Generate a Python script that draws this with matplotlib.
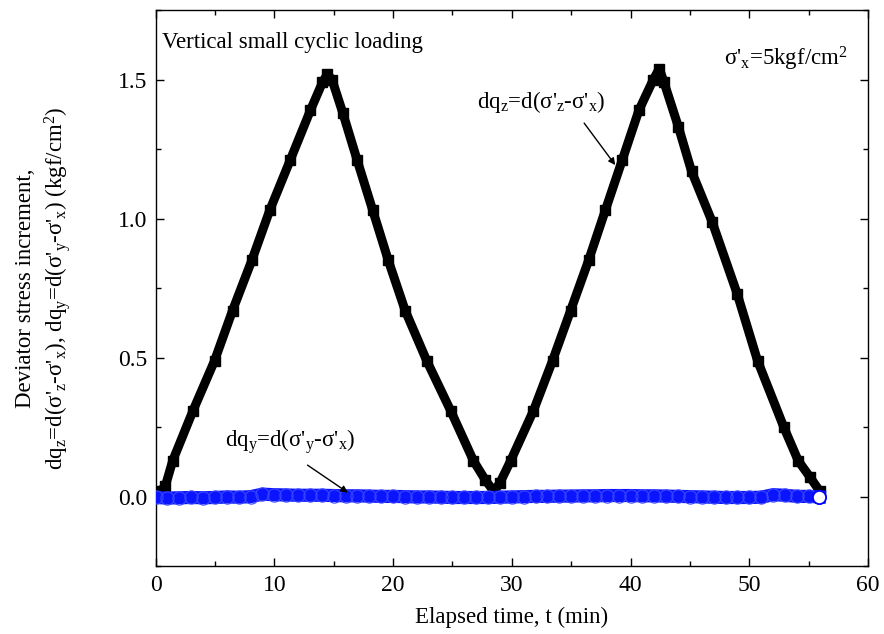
import matplotlib
matplotlib.use("Agg")
from matplotlib import pyplot as plt
from matplotlib.ticker import MultipleLocator

plt.rcParams['font.family'] = ['Liberation Serif', 'DejaVu Serif']
plt.rcParams['mathtext.fontset'] = 'custom'
plt.rcParams['mathtext.rm'] = 'Liberation Serif'
plt.rcParams['mathtext.it'] = 'Liberation Serif'

# dq_z = d(s'z - s'x)
t_z = [0.0, 0.38, 0.83, 1.44, 3.15, 4.97, 6.48, 8.10, 9.61, 11.33, 13.04, 14.05,
       14.46, 14.86, 15.77, 16.98, 18.29, 19.60, 21.02, 22.83, 24.85, 26.77, 27.78,
       28.49, 28.99, 29.90, 31.82, 33.43, 34.95, 36.46, 37.87, 39.29, 40.70, 41.91,
       42.42, 42.82, 44.03, 45.14, 46.86, 48.98, 50.69, 52.91, 54.12, 55.13, 55.94]
dq_z = [0.00, 0.02, 0.04, 0.13, 0.31, 0.49, 0.67, 0.85, 1.03, 1.21, 1.39, 1.49,
        1.52, 1.50, 1.38, 1.21, 1.03, 0.85, 0.67, 0.49, 0.31, 0.13, 0.06,
        0.02, 0.05, 0.13, 0.31, 0.49, 0.67, 0.85, 1.03, 1.21, 1.39, 1.50,
        1.54, 1.49, 1.33, 1.17, 0.99, 0.73, 0.49, 0.25, 0.13, 0.07, 0.02]

# dq_y = d(s'y - s'x)
t_y = [0, 1, 2, 3, 4, 5, 6, 7, 8, 9, 10, 11, 12, 13, 14, 15, 16, 17, 18, 19, 20,
       21, 22, 23, 24, 25, 26, 27, 28, 29, 30, 31, 32, 33, 34, 35, 36, 37, 38, 39,
       40, 41, 42, 43, 44, 45, 46, 47, 48, 49, 50, 51, 52, 53, 54, 55, 55.9]
dq_y = [-0.002, -0.004, -0.003, -0.002, -0.003, -0.002, 0.000, -0.001, 0.001, 0.010,
        0.008, 0.007, 0.006, 0.006, 0.006, 0.005, 0.004, 0.004, 0.003, 0.002, 0.002,
        0.001, 0.000, 0.000, -0.001, -0.002, -0.002, -0.002, -0.002, -0.001, 0.000,
        0.001, 0.002, 0.002, 0.003, 0.003, 0.004, 0.004, 0.005, 0.005, 0.005, 0.004,
        0.004, 0.003, 0.002, 0.001, 0.000, -0.001, -0.002, -0.002, -0.002, -0.001,
        0.008, 0.006, 0.002, 0.002, 0.000]

fig = plt.figure(figsize=(8.84, 6.34), dpi=100)
ax = fig.add_axes([0.176, 0.1065, 0.806, 0.8775])

ax.plot(t_z, dq_z, color='black', lw=6.5, marker='s', ms=6.5, solid_joinstyle='round')
ax.plot(t_y, dq_y, color='#0a14ff', lw=9.5, zorder=3)
ax.plot(t_y, dq_y, ls='none', marker='o', ms=9.5, mfc='none', mec='#3a48ff', mew=0.8, zorder=4)
ax.plot(t_y[-1], dq_y[-1], ls='none', marker='o', ms=9.5, mfc='white', mec='#0000ff', mew=1.3, zorder=5)

ax.set_xlim(0, 60)
ax.set_ylim(-0.25, 1.75)
ax.xaxis.set_major_locator(MultipleLocator(10))
ax.xaxis.set_minor_locator(MultipleLocator(5))
ax.yaxis.set_major_locator(MultipleLocator(0.5))
ax.yaxis.set_minor_locator(MultipleLocator(0.25))
ax.yaxis.set_major_formatter(plt.FormatStrFormatter('%.1f'))
ax.tick_params(which='both', direction='in', top=True, right=True, width=1)
ax.tick_params(which='major', length=6, labelsize=17, pad=6)
ax.tick_params(which='minor', length=3.5)
for s in ax.spines.values():
    s.set_linewidth(1.0)

ax.set_xlabel('Elapsed time, t (min)', fontsize=16.5, labelpad=8)
fig.text(0.029, 0.5457, 'Deviator stress increment,', rotation=90, ha='center', va='center', fontsize=16.5)
fig.text(0.0645, 0.5457,
         r"dq$_z$=d(σ'$_z$-σ'$_x$), dq$_y$=d(σ'$_y$-σ'$_x$) (kgf/cm$^2$)",
         rotation=90, ha='center', va='center', fontsize=16.5)

ax.text(0.52, 1.635, 'Vertical small cyclic loading', fontsize=16.5, va='center')
ax.text(58.26, 1.55, r"σ'$_x$=5kgf/cm$^2$", fontsize=16.5, ha='right', va='baseline')

ax.annotate('', xy=(38.85, 1.185), xytext=(35.95, 1.352),
            arrowprops=dict(arrowstyle='-|>', color='black', lw=1, mutation_scale=10))
ax.text(27.1, 1.399, r"dq$_z$=d(σ'$_z$-σ'$_x$)", fontsize=16.5, va='baseline')
ax.annotate('', xy=(16.39, 0.01), xytext=(12.6, 0.12),
            arrowprops=dict(arrowstyle='-|>', color='black', lw=1, mutation_scale=10), zorder=6)
ax.text(5.86, 0.18, r"dq$_y$=d(σ'$_y$-σ'$_x$)", fontsize=16.5, va='baseline')

fig.savefig('out.png', dpi=100)
